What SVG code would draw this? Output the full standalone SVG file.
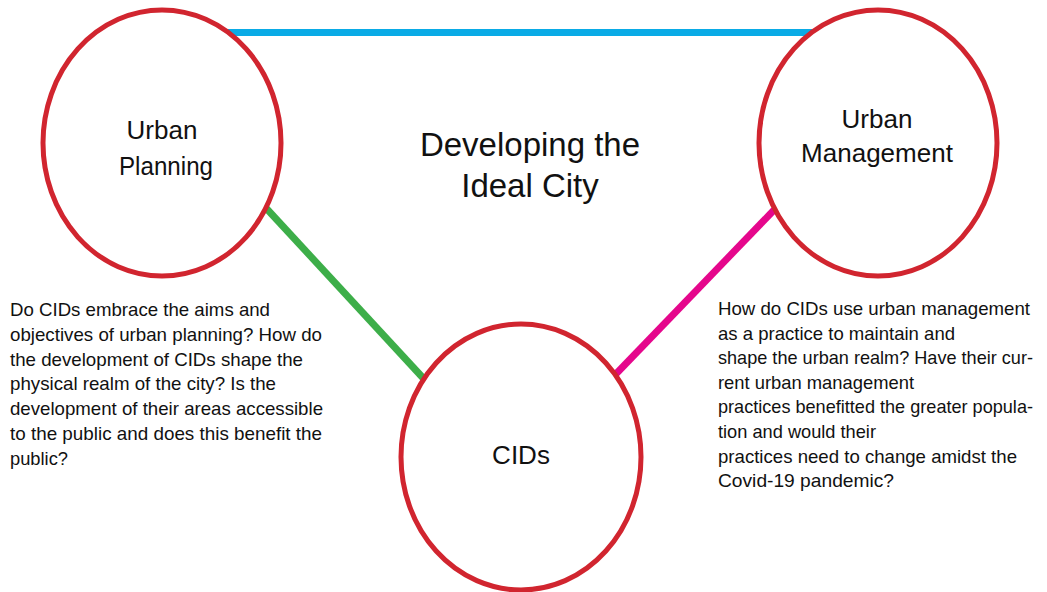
<svg xmlns="http://www.w3.org/2000/svg" width="1047" height="592" viewBox="0 0 1047 592">
  <style>
    .node { fill: #ffffff; stroke: #d1252f; stroke-width: 5; }
    .label { font-family: "Liberation Sans", Arial, sans-serif; font-size: 26px; fill: #111111; text-anchor: middle; }
    .title { font-family: "Liberation Sans", Arial, sans-serif; font-size: 33px; fill: #111111; text-anchor: middle; }
    .note { font-family: "Liberation Sans", Arial, sans-serif; font-size: 18.5px; fill: #111111; }
    .link { stroke-width: 7; fill: none; }
  </style>
  <rect width="1047" height="592" fill="#ffffff"/>

  <!-- connectors between the three circles -->
  <g id="connectors">
    <line class="link" x1="228" y1="32.5" x2="812" y2="32.5" stroke="#0aabe6"/>
    <line class="link" x1="266" y1="208" x2="424" y2="379" stroke="#3dae49"/>
    <line class="link" x1="774" y1="210" x2="613" y2="377" stroke="#e5078c"/>
  </g>

  <g id="node-urban-planning">
    <ellipse class="node" cx="162" cy="143" rx="119" ry="133"/>
    <text class="label" x="162" y="139">Urban</text>
    <text class="label" x="166" y="175" textLength="94" lengthAdjust="spacingAndGlyphs">Planning</text>
  </g>

  <g id="node-urban-management">
    <ellipse class="node" cx="878" cy="143" rx="119" ry="133"/>
    <text class="label" x="877" y="128">Urban</text>
    <text class="label" x="877" y="162">Management</text>
  </g>

  <g id="node-cids">
    <ellipse class="node" cx="521" cy="457" rx="120" ry="133"/>
    <text class="label" x="521" y="464">CIDs</text>
  </g>

  <g id="title">
    <text class="title" x="530" y="156">Developing the</text>
    <text class="title" x="530" y="197">Ideal City</text>
  </g>

  <g id="note-planning" class="note">
    <text class="note" x="10" y="316" textLength="260" lengthAdjust="spacingAndGlyphs">Do CIDs embrace the aims and</text>
    <text class="note" x="10" y="341" textLength="312" lengthAdjust="spacingAndGlyphs">objectives of urban planning? How do</text>
    <text class="note" x="10" y="366" textLength="293" lengthAdjust="spacingAndGlyphs">the development of CIDs shape the</text>
    <text class="note" x="10" y="390" textLength="266" lengthAdjust="spacingAndGlyphs">physical realm of the city? Is the</text>
    <text class="note" x="10" y="415" textLength="313" lengthAdjust="spacingAndGlyphs">development of their areas accessible</text>
    <text class="note" x="10" y="440" textLength="312" lengthAdjust="spacingAndGlyphs">to the public and does this benefit the</text>
    <text class="note" x="10" y="465" textLength="58" lengthAdjust="spacingAndGlyphs">public?</text>
  </g>

  <g id="note-management">
    <text class="note" x="718" y="315" textLength="312" lengthAdjust="spacingAndGlyphs">How do CIDs use urban management</text>
    <text class="note" x="718" y="340" textLength="237" lengthAdjust="spacingAndGlyphs">as a practice to maintain and</text>
    <text class="note" x="718" y="364" textLength="315" lengthAdjust="spacingAndGlyphs">shape the urban realm? Have their cur-</text>
    <text class="note" x="718" y="389" textLength="196" lengthAdjust="spacingAndGlyphs">rent urban management</text>
    <text class="note" x="718" y="413" textLength="315" lengthAdjust="spacingAndGlyphs">practices benefitted the greater popula-</text>
    <text class="note" x="718" y="438" textLength="158" lengthAdjust="spacingAndGlyphs">tion and would their</text>
    <text class="note" x="718" y="463" textLength="299" lengthAdjust="spacingAndGlyphs">practices need to change amidst the</text>
    <text class="note" x="718" y="487" textLength="176" lengthAdjust="spacingAndGlyphs">Covid-19 pandemic?</text>
  </g>
</svg>
